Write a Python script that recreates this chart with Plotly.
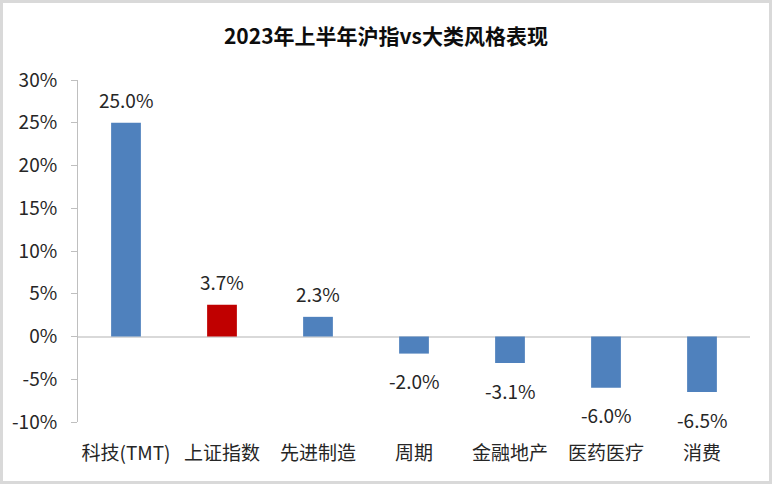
import plotly.graph_objects as go

categories = ["科技(TMT)", "上证指数", "先进制造", "周期", "金融地产", "医药医疗", "消费"]
values = [25.0, 3.7, 2.3, -2.0, -3.1, -6.0, -6.5]
colors = ["#4F81BD", "#C00000", "#4F81BD", "#4F81BD", "#4F81BD", "#4F81BD", "#4F81BD"]
tick_vals = [-10, -5, 0, 5, 10, 15, 20, 25, 30]
tick_text = ["-10%", "-5%", "0%", "5%", "10%", "15%", "20%", "25%", "30%"]

W, H = 772, 484
ml, mr, mt, mb = 78, 22, 80, 62
pw, ph = W - ml - mr, H - mt - mb
font = "Noto Sans CJK SC, Noto Sans, sans-serif"

fig = go.Figure()
fig.add_trace(go.Bar(
    x=categories, y=values, marker=dict(color=colors, line=dict(width=0)),
    width=0.31, hoverinfo="skip",
))

for c, v in zip(categories, values):
    fig.add_annotation(
        x=c, y=v, text=f"{v:.1f}%", showarrow=False,
        yshift=23 if v >= 0 else -27,
        font=dict(family=font, size=19, color="#262626"),
    )

fig.add_shape(type="rect", xref="paper", yref="paper",
              x0=-(ml - 1.5) / pw, x1=1 + (mr - 1.5) / pw,
              y0=-(mb - 1.5) / ph, y1=1 + (mt - 1.5) / ph,
              line=dict(color="#d9d9d9", width=3), layer="below")

fig.update_layout(
    width=W, height=H,
    margin=dict(l=ml, r=mr, t=mt, b=mb),
    paper_bgcolor="white", plot_bgcolor="white",
    showlegend=False,
    title=dict(text="<b>2023年上半年沪指vs大类风格表现</b>", x=0.5, xanchor="center",
               y=1 - 37 / H, yanchor="middle",
               font=dict(family=font, size=21, color="#0d0d0d")),
    font=dict(family=font, color="#262626"),
)
fig.update_xaxes(showline=False, ticks="", showgrid=False, zeroline=False,
                 ticklabelstandoff=18,
                 tickfont=dict(family=font, size=19, color="#262626"))
fig.update_yaxes(range=[-10, 30], tickvals=tick_vals, ticktext=tick_text,
                 showline=True, linecolor="#bfbfbf", linewidth=1,
                 ticks="outside", ticklen=6, tickcolor="#bfbfbf",
                 ticklabelstandoff=10,
                 showgrid=False, zeroline=True, zerolinecolor="#d9d9d9", zerolinewidth=1.5,
                 tickfont=dict(family=font, size=19, color="#262626"))

fig.write_html("out.html", config={"displayModeBar": False},
               post_script="document.body.style.margin='0';document.body.style.overflow='hidden';")
